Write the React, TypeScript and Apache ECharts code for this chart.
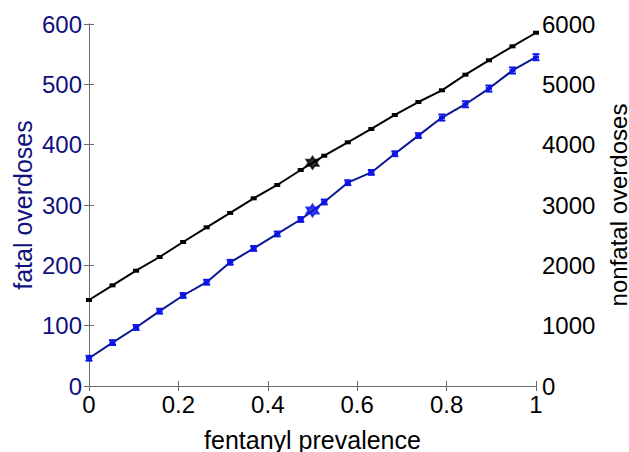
import React, { useEffect, useRef } from "react";
import * as echarts from "echarts";

const prevalence = [0, 0.0526, 0.1053, 0.1579, 0.2105, 0.2632, 0.3158, 0.3684, 0.4211, 0.4737, 0.5263, 0.5789, 0.6316, 0.6842, 0.7368, 0.7895, 0.8421, 0.8947, 0.9474, 1];
const fatal = [46, 72, 97, 124, 150, 172, 205, 228, 252, 276, 305, 337, 354, 385, 415, 445, 467, 493, 523, 545];
const fatalErr = [4, 4, 4, 4, 4, 4, 4, 4, 4, 4, 4, 4, 4, 4, 4, 5, 5, 5, 5, 5];
const nonfatal = [1425, 1668, 1911, 2138, 2387, 2630, 2868, 3111, 3332, 3580, 3817, 4039, 4260, 4492, 4707, 4901, 5160, 5398, 5630, 5855];
const baseline = { x: 0.5, fatal: 291, nonfatal: 3701 };

const STAR = "path://M0 -1 L0.2887 -0.5 L0.866 -0.5 L0.577 0 L0.866 0.5 L0.2887 0.5 L0 1 L-0.2887 0.5 L-0.866 0.5 L-0.577 0 L-0.866 -0.5 L-0.2887 -0.5 Z";

const FONT = "'Liberation Sans', Arial, Helvetica, sans-serif";
const NAVY = "#10107e";
const LINE_BLUE = "#0c1690";
const MARK_BLUE = "#0a14e8";
const AXIS_GRAY = "#6a6a6a";

export default function App() {
  const ref = useRef<HTMLDivElement>(null);
  useEffect(() => {
    if (!ref.current) return;
    const chart = echarts.init(ref.current, undefined, { renderer: "svg" });
    const axisCommon = {
      axisLine: { show: true, lineStyle: { color: AXIS_GRAY, width: 1 } },
      axisTick: { show: true, inside: true, length: 5, lineStyle: { color: AXIS_GRAY } },
      splitLine: { show: false },
      nameMoveOverlap: false,
    };
    chart.setOption({
      animation: false,
      backgroundColor: "#ffffff",
      grid: { left: 89, right: 93, top: 24, bottom: 66, containLabel: false, outerBoundsMode: "none" },
      xAxis: [
        {
          type: "value",
          min: 0,
          max: 1,
          interval: 0.2,
          position: "bottom",
          name: "fentanyl prevalence",
          nameLocation: "middle",
          nameGap: 41,
          nameTextStyle: { fontFamily: FONT, fontSize: 25, color: "#000" },
          axisLabel: { fontFamily: FONT, fontSize: 24, color: "#000", margin: 6 },
          ...axisCommon,
        },
        {
          type: "value",
          min: 0,
          max: 1,
          interval: 0.2,
          position: "top",
          axisLabel: { show: false },
          ...axisCommon,
        },
      ],
      yAxis: [
        {
          type: "value",
          min: 0,
          max: 600,
          interval: 100,
          position: "left",
          name: "fatal overdoses",
          nameLocation: "middle",
          nameGap: 54,
          nameTextStyle: { fontFamily: FONT, fontSize: 25, color: NAVY },
          axisLabel: { fontFamily: FONT, fontSize: 24, color: NAVY, margin: 7 },
          ...axisCommon,
        },
        {
          type: "value",
          min: 0,
          max: 6000,
          interval: 1000,
          position: "right",
          name: "nonfatal overdoses",
          nameLocation: "middle",
          nameGap: 73,
          nameTextStyle: { fontFamily: FONT, fontSize: 24, lineHeight: 18, color: "#000" },
          axisLabel: {
            fontFamily: FONT,
            fontSize: 24,
            color: "#000",
            margin: 6,
            formatter: (v: number) => String(v),
          },
          ...axisCommon,
        },
      ],
      series: [
        {
          type: "line",
          xAxisIndex: 0,
          yAxisIndex: 1,
          data: prevalence.map((x, i) => [x, nonfatal[i]]),
          lineStyle: { color: "#000", width: 2 },
          symbol: "rect",
          symbolSize: [6, 4],
          itemStyle: { color: "#000" },
          z: 2,
        },
        {
          type: "line",
          xAxisIndex: 0,
          yAxisIndex: 0,
          data: prevalence.map((x, i) => [x, fatal[i]]),
          lineStyle: { color: LINE_BLUE, width: 2 },
          symbol: "rect",
          symbolSize: [6, 3],
          itemStyle: { color: MARK_BLUE },
          z: 2,
        },
        {
          type: "custom",
          xAxisIndex: 0,
          yAxisIndex: 0,
          data: prevalence.map((x, i) => [x, fatal[i], fatalErr[i]]),
          renderItem: (params: any, api: any) => {
            const x = api.value(0);
            const y = api.value(1);
            const e = api.value(2);
            const top = api.coord([x, y + e]);
            const bot = api.coord([x, y - e]);
            const w = 3.5;
            const style = { stroke: MARK_BLUE, lineWidth: 2 };
            return {
              type: "group",
              children: [
                { type: "line", shape: { x1: top[0], y1: top[1], x2: bot[0], y2: bot[1] }, style },
                { type: "line", shape: { x1: top[0] - w, y1: top[1], x2: top[0] + w, y2: top[1] }, style },
                { type: "line", shape: { x1: bot[0] - w, y1: bot[1], x2: bot[0] + w, y2: bot[1] }, style },
              ],
            };
          },
          z: 3,
        },
        {
          type: "scatter",
          xAxisIndex: 0,
          yAxisIndex: 1,
          data: [[baseline.x, baseline.nonfatal]],
          symbol: STAR,
          symbolSize: 12,
          itemStyle: { color: "#000", borderColor: "#000", borderWidth: 2 },
          z: 4,
        },
        {
          type: "scatter",
          xAxisIndex: 0,
          yAxisIndex: 0,
          data: [[baseline.x, baseline.fatal]],
          symbol: STAR,
          symbolSize: 12,
          itemStyle: { color: MARK_BLUE, borderColor: MARK_BLUE, borderWidth: 2 },
          z: 4,
        },
      ],
    });
    return () => chart.dispose();
  }, []);
  return (
    <div
      ref={ref}
      style={{ position: "absolute", left: 0, top: 0, width: 629, height: 452 }}
    />
  );
}
